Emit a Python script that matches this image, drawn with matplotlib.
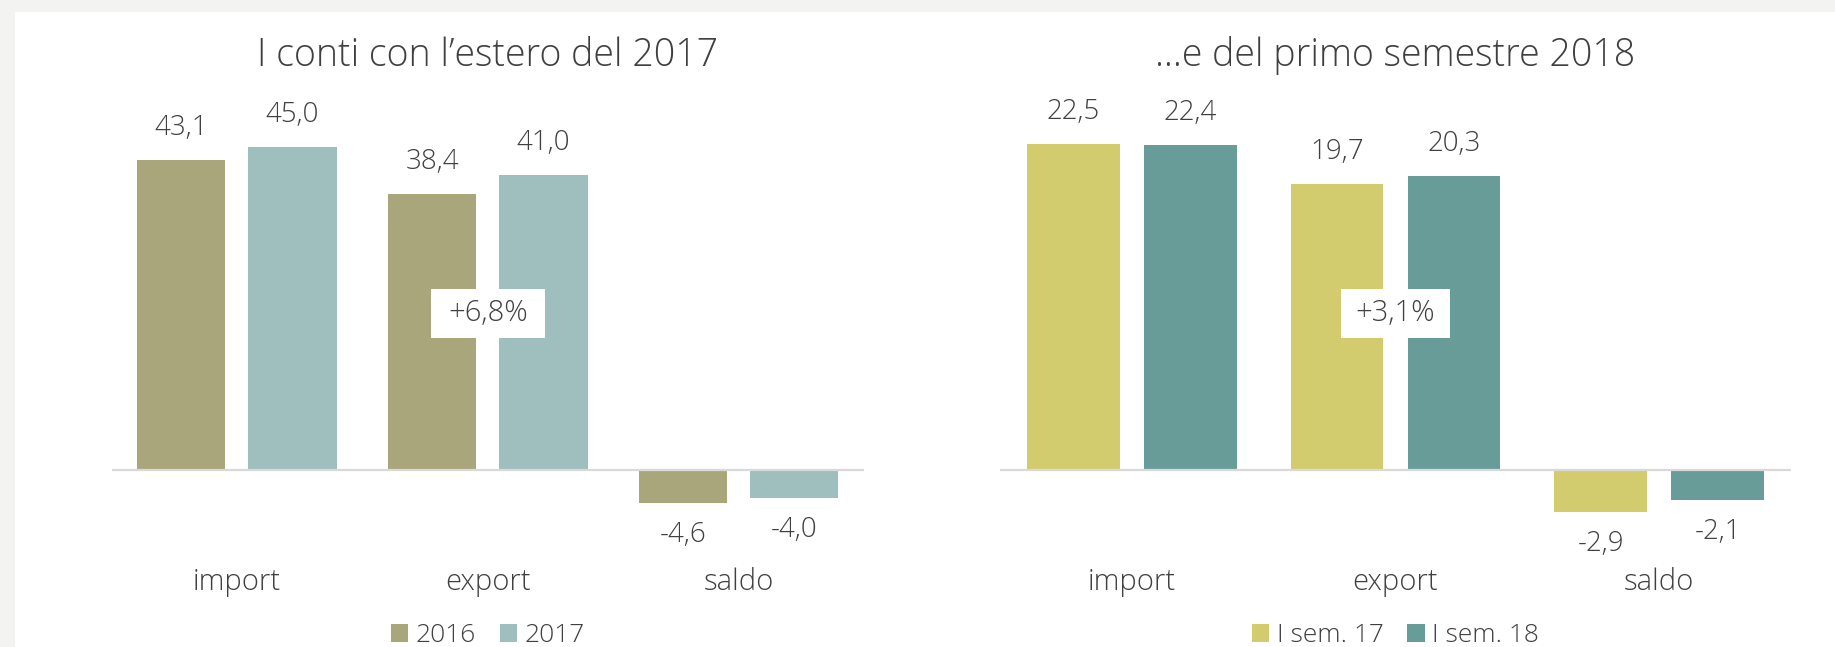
import matplotlib
matplotlib.use("Agg")
import matplotlib.pyplot as plt
from matplotlib.patches import Rectangle
from matplotlib.transforms import blended_transform_factory
import numpy as np

# Data
categories = ["import", "export", "saldo"]

left_series = ["2016", "2017"]
left_2016 = [43.1, 38.4, -4.6]
left_2017 = [45.0, 41.0, -4.0]
left_growth = "+6,8%"

right_series = ["I sem. 17", "I sem. 18"]
right_17 = [22.5, 19.7, -2.9]
right_18 = [22.4, 20.3, -2.1]
right_growth = "+3,1%"

TEXT = '#404040'
plt.rcParams['font.family'] = ['Open Sans', 'DejaVu Sans']
plt.rcParams['font.weight'] = 300

fig = plt.figure(figsize=(18.35, 6.47), dpi=100)
fig.patch.set_facecolor('#f3f3f1')
# white card over the textured page
fig.patches.append(Rectangle((15 / 1835, 0), 1, 1 - 12 / 647, transform=fig.transFigure,
                             facecolor='white', edgecolor='none', zorder=-10))


def fmt(v):
    return f"{v:.1f}".replace(".", ",")


def draw_panel(ax, title, names, vals_a, vals_b, colors, ylim, growth, box_w):
    x = np.arange(len(categories))
    off, w = 0.222, 0.352
    ax.set_facecolor('none')
    for vals, shift, col, name in [(vals_a, -off, colors[0], names[0]),
                                   (vals_b, off, colors[1], names[1])]:
        bars = ax.bar(x + shift, vals, width=w, color=col, label=name, zorder=2)
        for b, v in zip(bars, vals):
            ax.annotate(fmt(v), xy=(b.get_x() + b.get_width() / 2, v),
                        xytext=(0, 23 if v >= 0 else -23), textcoords='offset points',
                        ha='center', va='center', fontsize=20, color=TEXT)
    ax.axhline(0, color='#d9d9d9', lw=1.6, zorder=3)
    ax.set_xlim(-0.5, 2.5)
    ax.set_ylim(*ylim)
    ax.set_xticks([])
    ax.set_yticks([])
    for s in ax.spines.values():
        s.set_visible(False)

    trans = blended_transform_factory(ax.transData, ax.transAxes)
    for xi, c in zip(x, categories):
        ax.text(xi, -0.049, c, transform=trans, ha='center', va='center',
                fontsize=21, color=TEXT)

    # growth box on export
    ax.add_patch(Rectangle((1 - box_w / 2, 0.4826), box_w, 0.1064, transform=trans,
                           facecolor='white', edgecolor='none', zorder=4))
    ax.text(1, 0.536, growth, transform=trans, ha='center', va='center',
            fontsize=21, color=TEXT, zorder=5)

    ax.text(0.5, 1.097, title, transform=ax.transAxes, ha='center', va='center',
            fontsize=27, color=TEXT)

    ax.legend(loc='center', bbox_to_anchor=(0.5, -0.165), ncol=2, frameon=False,
              fontsize=19, handlelength=0.65, handleheight=0.65, handletextpad=0.3,
              columnspacing=0.9, labelcolor=TEXT)


ax1 = fig.add_axes([111.5 / 1835, 1 - 560 / 647, (864 - 111.5) / 1835, 460 / 647])
ax2 = fig.add_axes([1000 / 1835, 1 - 560 / 647, (1791 - 1000) / 1835, 460 / 647])

draw_panel(ax1, "I conti con l\u2019estero del 2017", left_series, left_2016, left_2017,
           ['#a9a67c', '#9ebfbe'], (-12.59, 51.48), left_growth, 0.454)
draw_panel(ax2, "\u2026e del primo semestre 2018", right_series, right_17, right_18,
           ['#d3cc6e', '#679c99'], (-6.24, 25.52), right_growth, 0.41)

fig.savefig("out.png", dpi=100, facecolor=fig.get_facecolor())
